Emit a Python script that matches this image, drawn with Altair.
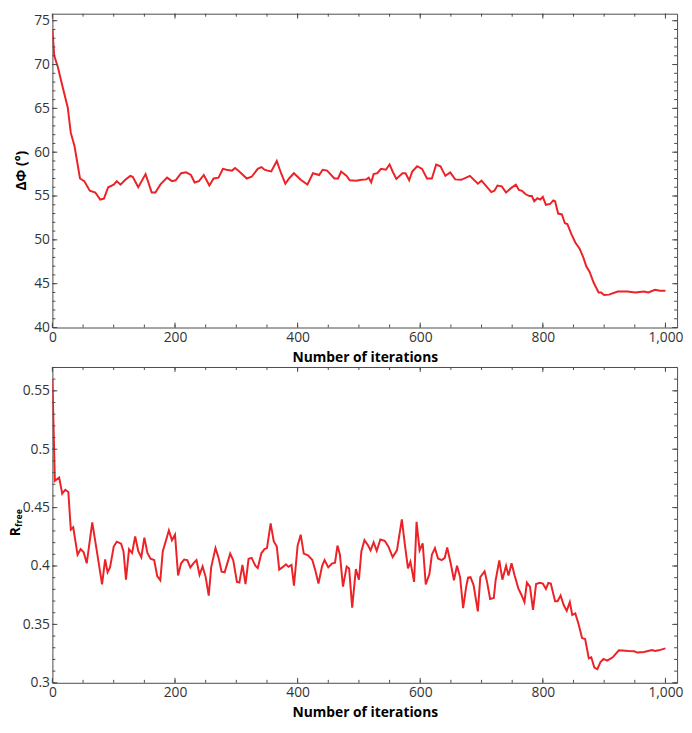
import altair as alt
import pandas as pd

# ---------------- data ----------------
top_iter = [0, 3, 9, 14, 25, 30, 36, 45, 52, 61,
            70, 78, 84, 91, 100, 105, 111, 119, 127, 131,
            140, 152, 162, 168, 176, 187, 195, 201, 210, 218,
            226, 232, 239, 247, 256, 263, 271, 278, 284, 293,
            298, 303, 311, 317, 325, 335, 341, 346, 351, 357,
            366, 373, 380, 386, 394, 405, 416, 425, 435, 441,
            448, 460, 466, 471, 480, 485, 496, 504, 512, 516,
            520, 524, 530, 536, 544, 550, 555, 561, 571, 576,
            582, 587, 595, 603, 611, 619, 626, 633, 641, 649,
            657, 667, 681, 694, 700, 708, 716, 721, 726, 733,
            740, 748, 756, 761, 766, 772, 778, 782, 786, 791,
            796, 800, 805, 812, 817, 820, 825, 831, 836, 840,
            847, 853, 860, 866, 871, 876, 883, 891, 895, 900,
            908, 922, 938, 951, 965, 972, 983, 991, 1000]
top_dphi = [74.0, 71.0, 69.7, 68.2, 65.1, 62.2, 60.7, 57.0, 56.7, 55.6,
            55.4, 54.6, 54.7, 56.0, 56.3, 56.7, 56.3, 56.85, 57.3, 57.2,
            56.0, 57.5, 55.4, 55.4, 56.3, 57.1, 56.7, 56.8, 57.6, 57.7,
            57.4, 56.55, 56.7, 57.4, 56.2, 57.0, 57.1, 58.1, 58.0, 57.9,
            58.2, 57.9, 57.4, 57.0, 57.2, 58.1, 58.3, 58.0, 57.9, 57.8,
            59.0, 57.6, 56.4, 57.0, 57.6, 56.85, 56.3, 57.6, 57.4, 58.0,
            57.9, 57.0, 57.0, 57.8, 57.3, 56.8, 56.75, 56.85, 56.9, 57.1,
            56.55, 57.5, 57.6, 58.1, 58.0, 58.6, 57.8, 56.95, 57.6, 57.6,
            56.8, 57.8, 58.4, 58.1, 57.0, 57.0, 58.6, 58.4, 57.3, 57.7,
            56.9, 56.85, 57.3, 56.4, 56.75, 56.1, 55.45, 55.6, 56.2, 56.1,
            55.4, 55.9, 56.3, 55.7, 55.6, 55.2, 55.0, 55.0, 54.4, 54.75,
            54.6, 54.9, 54.0, 54.1, 54.5, 54.4, 53.0, 52.9, 51.9, 51.8,
            50.6, 49.7, 49.0, 48.0, 46.95, 46.4, 45.1, 44.0, 44.0, 43.7,
            43.75, 44.1, 44.1, 44.0, 44.1, 44.0, 44.3, 44.2, 44.2]

bot_iter = [0, 4, 11, 16, 21, 26, 30, 34, 41, 46,
            51, 56, 65, 73, 81, 86, 90, 94, 100, 105,
            112, 116, 120, 125, 130, 135, 140, 145, 150, 155,
            160, 166, 171, 176, 180, 190, 195, 200, 205, 210,
            215, 220, 225, 230, 235, 240, 245, 250, 255, 259,
            266, 271, 276, 281, 290, 295, 301, 305, 310, 315,
            320, 325, 331, 335, 341, 346, 350, 356, 361, 366,
            370, 375, 381, 385, 390, 394, 400, 405, 410, 417,
            424, 429, 434, 440, 444, 450, 456, 461, 465, 469,
            474, 480, 484, 489, 495, 500, 504, 509, 515, 519,
            524, 529, 535, 542, 548, 555, 562, 570, 575, 580,
            584, 590, 594, 599, 604, 609, 615, 619, 624, 629,
            635, 640, 644, 650, 655, 660, 665, 670, 675, 678,
            682, 687, 694, 698, 705, 709, 714, 720, 723, 729,
            734, 740, 744, 749, 754, 760, 765, 770, 774, 779,
            784, 789, 795, 800, 805, 809, 813, 820, 824, 829,
            834, 839, 844, 848, 853, 858, 864, 869, 875, 879,
            884, 889, 894, 899, 905, 914, 924, 940, 949, 954,
            965, 978, 983, 989, 1000]
bot_rfree = [0.5597, 0.473, 0.4757, 0.462, 0.4653, 0.4634, 0.4312, 0.4332, 0.4097, 0.4144,
             0.4117, 0.4023, 0.4373, 0.4111, 0.3842, 0.4056, 0.3946, 0.3988, 0.4167, 0.4208,
             0.4191, 0.4125, 0.3883, 0.4144, 0.4111, 0.4254, 0.4130, 0.4076, 0.4243, 0.4111,
             0.4062, 0.4051, 0.3913, 0.3878, 0.4125, 0.4304, 0.4221, 0.4268, 0.3919, 0.4023,
             0.4056, 0.4051, 0.3988, 0.4023, 0.4051, 0.3924, 0.3996, 0.3905, 0.3746, 0.3988,
             0.4153, 0.4070, 0.3952, 0.3946, 0.4106, 0.4048, 0.3864, 0.3858, 0.4010, 0.3845,
             0.4062, 0.4070, 0.4002, 0.3982, 0.4111, 0.4144, 0.4153, 0.4365, 0.4213, 0.4167,
             0.3969, 0.3988, 0.4015, 0.3993, 0.4010, 0.3831, 0.4175, 0.4268, 0.4106, 0.4092,
             0.4051, 0.3960, 0.3850, 0.4002, 0.4051, 0.3988, 0.4021, 0.4029, 0.4175, 0.4097,
             0.3823, 0.3996, 0.3979, 0.3644, 0.3974, 0.3883, 0.4125, 0.4221, 0.4175, 0.4134,
             0.4202, 0.4130, 0.4227, 0.4216, 0.4167, 0.4076, 0.4134, 0.4400, 0.4180, 0.3979,
             0.4037, 0.3864, 0.4378, 0.4134, 0.4194, 0.3842, 0.3932, 0.4097, 0.4153, 0.4064,
             0.4051, 0.4070, 0.4158, 0.4015, 0.3878, 0.4002, 0.3905, 0.3639, 0.3823, 0.3900,
             0.3905, 0.3837, 0.3611, 0.3905, 0.3955, 0.3864, 0.3718, 0.3726, 0.3878, 0.4048,
             0.3883, 0.4002, 0.3919, 0.4023, 0.3919, 0.3809, 0.3754, 0.3691, 0.3858, 0.3823,
             0.3625, 0.3845, 0.3856, 0.3850, 0.3804, 0.3856, 0.3850, 0.3699, 0.3699, 0.3748,
             0.3666, 0.3616, 0.3691, 0.3581, 0.3594, 0.3507, 0.3383, 0.3374, 0.3209, 0.3218,
             0.3130, 0.3116, 0.3177, 0.3204, 0.3190, 0.3218, 0.3278, 0.3272, 0.3270, 0.3259,
             0.3264, 0.3281, 0.3272, 0.3278, 0.3295]

x_label_values = [0, 200, 400, 600, 800, 1000]
x_minor_ticks = list(range(0, 1001, 50))
top_y_labels = [40, 45, 50, 55, 60, 65, 70, 75]
top_y_minor = list(range(40, 76))
bot_y_labels = [0.3, 0.35, 0.4, 0.45, 0.5, 0.55]
bot_y_minor = [round(0.30 + 0.01 * i, 2) for i in range(28)]

x_title = "Number of iterations"
top_title = ["ΔΦ (°)"]
bot_title_main = ["R"]
bot_title_sub = ["free"]

# ---------------- style ----------------
W = 633
HT = 318
HB = 320
XDOM = [0, 1019]
TOPDOM = [40, 75.8]
BOTDOM = [0.3, 0.5704]
AXC = "#4a4a4a"
RED = "#ec2227"
FONT = "Open Sans"

xscale = alt.Scale(domain=XDOM, nice=False, zero=False)

X_AXIS = alt.Axis(values=x_label_values, labelExpr="format(datum.value, ',')", title=x_title,
                  ticks=False, domain=False, grid=False, labelFlush=False, labelFont=FONT,
                  labelFontSize=14, labelColor="#333333", labelPadding=3, titleFont=FONT,
                  titleFontSize=14, titleFontWeight="bold", titleColor="black", titlePadding=6)


def y_axis(vals, expr):
    return alt.Axis(values=vals, labelExpr=expr, title=None, ticks=False, domain=False,
                    grid=False, labelFont=FONT, labelFontSize=14, labelColor="#333333",
                    labelPadding=3)


def xticks(vals, length, H):
    df = pd.DataFrame({"t": vals})
    b = alt.Chart(df).mark_rule(color=AXC, strokeWidth=1).encode(
        x=alt.X("t:Q", scale=xscale, axis=X_AXIS), y=alt.value(H), y2=alt.value(H - length))
    t = alt.Chart(df).mark_rule(color=AXC, strokeWidth=1).encode(
        x=alt.X("t:Q", scale=xscale, axis=X_AXIS), y=alt.value(0), y2=alt.value(length))
    return [b, t]


def yticks(vals, length, yscale, yax):
    df = pd.DataFrame({"t": vals})
    l = alt.Chart(df).mark_rule(color=AXC, strokeWidth=1).encode(
        y=alt.Y("t:Q", scale=yscale, axis=yax), x=alt.value(0), x2=alt.value(length))
    r = alt.Chart(df).mark_rule(color=AXC, strokeWidth=1).encode(
        y=alt.Y("t:Q", scale=yscale, axis=yax), x=alt.value(W - length), x2=alt.value(W))
    return [l, r]


# ---------------- top panel ----------------
top_scale = alt.Scale(domain=TOPDOM, nice=False, zero=False)
top_yax = y_axis(top_y_labels, "format(datum.value, 'd')")
top_df = pd.DataFrame({"iter": top_iter, "dphi": top_dphi})
top_line = alt.Chart(top_df).mark_line(color=RED, strokeWidth=2, clip=True).encode(
    x=alt.X("iter:Q", scale=xscale, axis=X_AXIS),
    y=alt.Y("dphi:Q", scale=top_scale, axis=top_yax),
)
top_text = alt.Chart(pd.DataFrame({"s": top_title})).mark_text(
    angle=270, font=FONT, fontSize=14, fontWeight="bold", color="black",
    baseline="middle", align="center").encode(
    text="s:N", x=alt.value(-31), y=alt.value(HT / 2))
top = alt.layer(
    top_line,
    *xticks(x_minor_ticks, 3, HT), *xticks(x_label_values, 5, HT),
    *yticks(top_y_minor, 3, top_scale, top_yax), *yticks(top_y_labels, 5, top_scale, top_yax),
    top_text,
).properties(width=W, height=HT)

# ---------------- bottom panel ----------------
bot_scale = alt.Scale(domain=BOTDOM, nice=False, zero=False)
bot_yax = y_axis(bot_y_labels, "format(datum.value, '.2~f')")
bot_df = pd.DataFrame({"iter": bot_iter, "rfree": bot_rfree})
bot_line = alt.Chart(bot_df).mark_line(color=RED, strokeWidth=2, clip=True).encode(
    x=alt.X("iter:Q", scale=xscale, axis=X_AXIS),
    y=alt.Y("rfree:Q", scale=bot_scale, axis=bot_yax),
)
bot_text_r = alt.Chart(pd.DataFrame({"s": bot_title_main})).mark_text(
    angle=270, font=FONT, fontSize=14, fontWeight="bold", color="black",
    baseline="middle", align="center").encode(
    text="s:N", x=alt.value(-37), y=alt.value(HB / 2 + 7))
bot_text_sub = alt.Chart(pd.DataFrame({"s": bot_title_sub})).mark_text(
    angle=270, font=FONT, fontSize=9, fontWeight="bold", color="black",
    baseline="middle", align="center").encode(
    text="s:N", x=alt.value(-33.5), y=alt.value(HB / 2 - 7))
bottom = alt.layer(
    bot_line,
    *xticks(x_minor_ticks, 3, HB), *xticks(x_label_values, 5, HB),
    *yticks(bot_y_minor, 3, bot_scale, bot_yax), *yticks(bot_y_labels, 5, bot_scale, bot_yax),
    bot_text_r, bot_text_sub,
).properties(width=W, height=HB)

chart = alt.vconcat(top, bottom, spacing=40, bounds="flush",
                    padding={"left": 0, "top": 0, "right": 0, "bottom": 0}
                    ).configure_view(stroke=AXC, strokeWidth=1)

chart.save("out.html", embed_options={"renderer": "svg", "actions": False})
